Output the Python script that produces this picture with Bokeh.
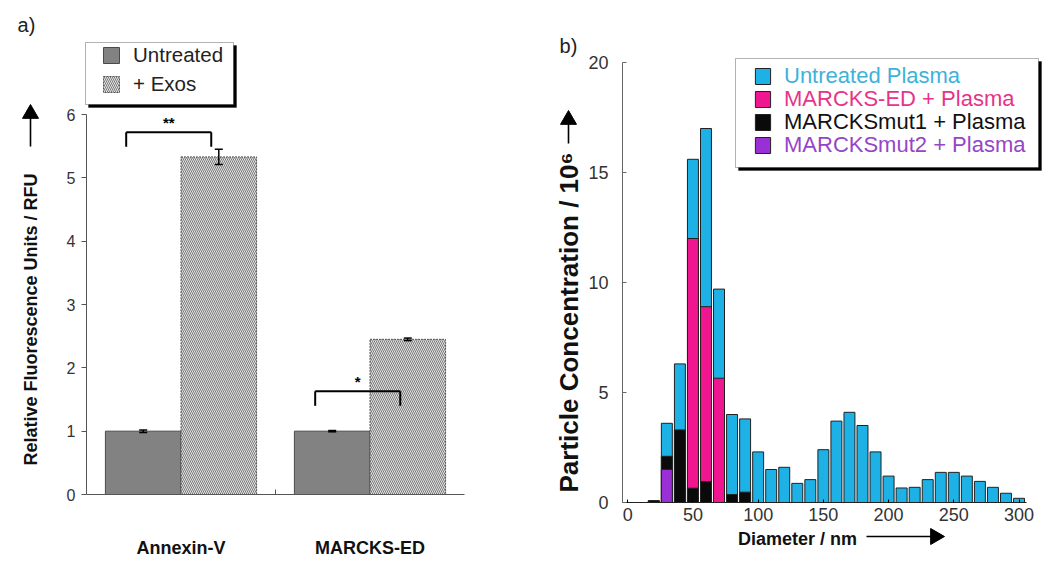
import numpy as np
from bokeh.plotting import figure
from bokeh.layouts import row
from bokeh.models import (ColumnDataSource, Range1d, FixedTicker, Legend, LegendItem,
                          Label, BoxAnnotation, Whisker, TeeHead)
from bokeh.core.properties import value
from bokeh.embed import file_html
from bokeh.resources import INLINE

FONT = "Liberation Sans"

# ---------------- panel a data ----------------
groups = ["Annexin-V", "MARCKS-ED"]
untreated = [1.0, 1.0]
untreated_err = [0.02, 0.01]
exos = [5.33, 2.45]
exos_err = [0.12, 0.02]
sig_marks = ["**", "*"]
sig_y = [5.72, 1.63]

# ---------------- panel b data ----------------
diameter = [20, 30, 40, 50, 60, 70, 80, 90, 100, 110, 120, 130, 140, 150, 160,
            170, 180, 190, 200, 210, 220, 230, 240, 250, 260, 270, 280, 290, 300]
untreated_plasma = [0.08, 3.6, 6.3, 15.6, 17.0, 9.7, 4.0, 3.8, 2.3, 1.5, 1.6, 0.87,
                    1.04, 2.4, 3.7, 4.1, 3.5, 2.3, 1.2, 0.66, 0.69, 1.04, 1.37, 1.37,
                    1.2, 0.96, 0.69, 0.42, 0.19]
marcks_ed = [0, 0, 0, 12.0, 8.9, 5.65, 0, 0, 0, 0, 0, 0, 0, 0, 0, 0, 0, 0, 0, 0, 0,
             0, 0, 0, 0, 0, 0, 0, 0]
marcks_mut1 = [0.08, 2.1, 3.3, 0.65, 0.95, 0, 0.36, 0.47, 0, 0, 0, 0, 0, 0, 0, 0, 0,
               0, 0, 0, 0, 0, 0, 0, 0, 0, 0, 0, 0]
marcks_mut2 = [0, 1.5, 0, 0, 0, 0, 0, 0, 0, 0, 0, 0, 0, 0, 0, 0, 0, 0, 0, 0, 0, 0, 0,
               0, 0, 0, 0, 0, 0]
series_names = ["Untreated Plasma", "MARCKS-ED + Plasma", "MARCKSmut1 + Plasma",
                "MARCKSmut2 + Plasma"]
series_fill = ["#1db1e6", "#f0168f", "#0a0a0a", "#9a2fd6"]
series_text = ["#3fb2da", "#e8338a", "#111111", "#9545c8"]

FIG_H = 559
A_W = 548
B_W = 500

# page-pixel helpers (used only to place decorations: legend boxes, labels, arrows)
def ax(px):
    return -0.5 + (px - 86) / 189.0

def ay(py):
    return (494 - py) / 63.333

def bx(px):
    return -4 + (px - 622) / 1.30435

def by(py):
    return (502 - py) / 22.0


def add_arrow(p, fx, fy, x0, y0, x1, y1, size=16):
    """arrow from page point (x0,y0) to tip (x1,y1): shaft segment + triangle head"""
    L = np.hypot(x1 - x0, y1 - y0)
    ux, uy = (x1 - x0) / L, (y1 - y0) / L
    back = (size / 2.0) * np.sqrt(3) * 2.0 / 3.0
    cx, cy = x1 - ux * back, y1 - uy * back
    ang = np.arctan2(-uy, ux) - np.pi / 2
    p.segment(x0=[fx(x0)], y0=[fy(y0)], x1=[fx(cx)], y1=[fy(cy)],
              line_color="black", line_width=1.6)
    p.scatter(x=[fx(cx)], y=[fy(cy)], marker="triangle", size=size, angle=ang,
              fill_color="black", line_color="black")


# =============== panel a ===============
pa = figure(width=A_W, height=FIG_H, x_range=Range1d(ax(0), ax(A_W)),
            y_range=Range1d(ay(FIG_H), ay(0)),
            output_backend="svg", toolbar_location=None,
            min_border=0, min_border_left=0, min_border_right=0,
            min_border_top=0, min_border_bottom=0)
pa.grid.visible = False
pa.outline_line_color = None

xi = np.arange(len(groups))
u = np.array(untreated); ue = np.array(untreated_err)
e = np.array(exos); ee = np.array(exos_err)
src_a = ColumnDataSource(dict(xu=xi - 0.2, xe=xi + 0.2, u=u, e=e,
                              u_lo=u - ue, u_hi=u + ue, e_lo=e - ee, e_hi=e + ee))
r_u = pa.vbar(x="xu", top="u", width=0.4, source=src_a, fill_color="#828282",
              line_color="#4a4a4a", line_width=1)
r_e = pa.vbar(x="xe", top="e", width=0.4, source=src_a, fill_color="#e2e2e2",
              line_color="#555555", line_width=1, line_dash="2 1",
              hatch_pattern="\\", hatch_color="#7a7a7a", hatch_scale=4, hatch_weight=1)

for base, lo, hi in (("xu", "u_lo", "u_hi"), ("xe", "e_lo", "e_hi")):
    w = Whisker(source=src_a, base=base, lower=lo, upper=hi, line_color="black",
                line_width=1.5, upper_head=TeeHead(size=8, line_width=1.5),
                lower_head=TeeHead(size=8, line_width=1.5), level="overlay")
    pa.add_layout(w)

# significance brackets
sy = np.array(sig_y)
br = ColumnDataSource(dict(x0=xi - 0.29, x1=xi + 0.16, y=sy, yd=sy - 0.23,
                           xm=xi - 0.065, t=sig_marks))
pa.segment(x0="x0", y0="y", x1="x1", y1="y", source=br, line_color="black", line_width=2)
pa.segment(x0="x0", y0="y", x1="x0", y1="yd", source=br, line_color="black", line_width=2)
pa.segment(x0="x1", y0="y", x1="x1", y1="yd", source=br, line_color="black", line_width=2)
pa.text(x="xm", y="y", text="t", source=br, text_align="center", text_baseline="bottom",
        text_font=value(FONT), text_font_style="bold", text_font_size="15px", y_offset=-1)

pa.yaxis.fixed_location = -0.5
pa.yaxis.bounds = (0, 6)
pa.yaxis.ticker = FixedTicker(ticks=[0, 1, 2, 3, 4, 5, 6])
pa.yaxis.major_tick_out = 5
pa.yaxis.major_tick_in = 0
pa.yaxis.minor_tick_line_color = None
pa.yaxis.major_label_standoff = 6
pa.yaxis.axis_line_color = "#555555"
pa.yaxis.major_tick_line_color = "#555555"
pa.yaxis.major_label_text_font = FONT
pa.yaxis.major_label_text_font_size = "16px"
pa.yaxis.major_label_text_color = "#333333"

pa.xaxis.fixed_location = 0
pa.xaxis.bounds = (-0.5, 1.5)
pa.xaxis.ticker = FixedTicker(ticks=list(range(len(groups))), minor_ticks=[0.5])
pa.xaxis.major_label_overrides = {i: g for i, g in enumerate(groups)}
pa.xaxis.major_tick_in = 0
pa.xaxis.major_tick_out = 0
pa.xaxis.minor_tick_in = 5
pa.xaxis.minor_tick_out = 0
pa.xaxis.minor_tick_line_color = "#555555"
pa.xaxis.axis_line_color = "#555555"
pa.xaxis.major_label_standoff = 43
pa.xaxis.major_label_text_font = FONT
pa.xaxis.major_label_text_font_style = "bold"
pa.xaxis.major_label_text_font_size = "18px"
pa.xaxis.major_label_text_color = "#111111"

# legend a (box + shadow)
pa.add_layout(BoxAnnotation(left=ax(88), right=ax(236), top=ay(45), bottom=ay(107),
                            fill_color="black", fill_alpha=1, line_color="black"))
pa.add_layout(BoxAnnotation(left=ax(85), right=ax(233), top=ay(42), bottom=ay(104),
                            fill_color="white", fill_alpha=1, line_color="black", line_width=1))
leg_a = Legend(items=[LegendItem(label="Untreated", renderers=[r_u]),
                      LegendItem(label="+ Exos", renderers=[r_e])],
               location=(101, FIG_H - 96), padding=0, margin=0, spacing=5,
               glyph_width=20, glyph_height=20, label_height=20, label_standoff=12,
               label_text_font=FONT, label_text_font_size="20.5px", label_text_color="#222222",
               background_fill_alpha=0, border_line_alpha=0)
pa.add_layout(leg_a)

pa.add_layout(Label(x=ax(26), y=ay(24), text="a)", text_font=FONT, text_font_size="20px",
                    text_align="center", text_baseline="middle", text_color="#222222"))
pa.add_layout(Label(x=ax(30), y=ay(319), text="Relative Fluorescence Units / RFU",
                    angle=np.pi / 2, text_font=FONT, text_font_style="bold",
                    text_font_size="18px", text_align="center", text_baseline="middle",
                    text_color="#111111"))
add_arrow(pa, ax, ay, 30, 146, 30, 104)

# =============== panel b ===============
pb = figure(width=B_W, height=FIG_H, x_range=Range1d(bx(A_W), bx(A_W + B_W)),
            y_range=Range1d(by(FIG_H), by(0)),
            output_backend="svg", toolbar_location=None,
            min_border=0, min_border_left=0, min_border_right=0,
            min_border_top=0, min_border_bottom=0)
pb.grid.visible = False
pb.outline_line_color = None

d = np.array(diameter)
renderers = []
for vals, col in zip([untreated_plasma, marcks_ed, marcks_mut1, marcks_mut2], series_fill):
    v = np.array(vals, dtype=float)
    m = v > 0
    src = ColumnDataSource(dict(x=d[m], top=v[m]))
    r = pb.vbar(x="x", top="top", width=8.4, source=src, fill_color=col,
                line_color="#222222", line_width=1)
    renderers.append(r)

pb.yaxis.fixed_location = -4
pb.yaxis.bounds = (0, 20)
pb.yaxis.ticker = FixedTicker(ticks=[0, 5, 10, 15, 20])
pb.yaxis.major_tick_in = 4
pb.yaxis.major_tick_out = 0
pb.yaxis.minor_tick_line_color = None
pb.yaxis.major_label_standoff = 14
pb.yaxis.axis_line_color = "#666666"
pb.yaxis.major_tick_line_color = "#666666"
pb.xaxis.fixed_location = 0
pb.xaxis.bounds = (-4, 306)
pb.xaxis.ticker = FixedTicker(ticks=[0, 50, 100, 150, 200, 250, 300])
pb.xaxis.major_tick_in = 3
pb.xaxis.major_tick_out = 0
pb.xaxis.minor_tick_line_color = None
pb.xaxis.major_label_standoff = 5
pb.xaxis.axis_line_color = "#222222"
for axx in (pb.xaxis, pb.yaxis):
    axx.major_label_text_font = FONT
    axx.major_label_text_font_size = "18px"
    axx.major_label_text_color = "#333333"

pb.add_layout(BoxAnnotation(left=bx(738), right=bx(1041), top=by(61), bottom=by(170),
                            fill_color="black", fill_alpha=1, line_color="black"))
pb.add_layout(BoxAnnotation(left=bx(735), right=bx(1038), top=by(58), bottom=by(167),
                            fill_color="white", fill_alpha=1, line_color="black", line_width=1))
row_centers = [77, 100, 123, 146]
for name, r, tc, c in zip(series_names, renderers, series_text, row_centers):
    lg = Legend(items=[LegendItem(label=name, renderers=[r])],
                location=(205, int(round(FIG_H - c - 12.4))), padding=0, margin=0, spacing=0,
                glyph_width=19, glyph_height=20, label_height=20, label_standoff=12,
                label_text_font=FONT, label_text_font_size="22px", label_text_color=tc,
                background_fill_alpha=0, border_line_alpha=0)
    pb.add_layout(lg)

pb.add_layout(Label(x=bx(568), y=by(45), text="b)", text_font=FONT, text_font_size="20px",
                    text_align="center", text_baseline="middle", text_color="#222222"))
pb.add_layout(Label(x=bx(568), y=by(322), text="Particle Concentration / 10\u2076",
                    angle=np.pi / 2, text_font=FONT, text_font_style="bold",
                    text_font_size="26px", text_align="center", text_baseline="middle",
                    text_color="#111111"))
add_arrow(pb, bx, by, 568, 143, 568, 110)
pb.add_layout(Label(x=bx(797), y=by(538), text="Diameter / nm", text_font=FONT,
                    text_font_style="bold", text_font_size="18px", text_align="center",
                    text_baseline="middle", text_color="#111111"))
add_arrow(pb, bx, by, 866, 536, 944, 536)

layout = row(pa, pb)
open("out.html", "w").write(file_html(layout, INLINE))
